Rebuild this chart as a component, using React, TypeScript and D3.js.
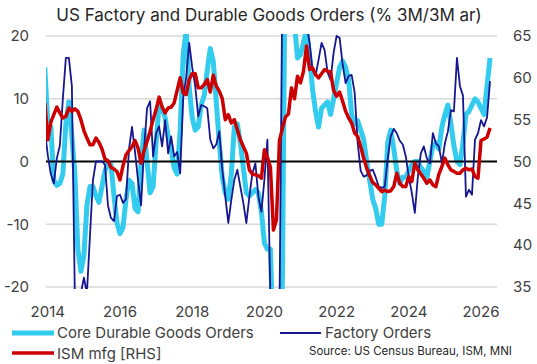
import React from 'react'
import * as d3 from 'd3'

// monthly series, first point Dec 2013
const startYear = 2013 + 11 / 12

const coreDurable = [
  15, 6, 5.5, -3, -3.8, -3.5, -2, 6, 9.5, 4, -2, -14, -17.5, -15, -7, -4, -4, -5.5, -6.5, -4,
  -1.5, -0.3, -0.5, -5.5, -9.8, -11.5, -10.5, -6, -3, -3.5, -7.5, -8, 0, 5, 0, -5, -4, 3, 9, 8.5,
  7, 4, 2, -1, -2, 5, 17, 21, 12, 7, 5, 5.5, 9, 10.5, 14.5, 18, 16, 9.5, 3, -2.5,
  -5, -6, -2, 5.5, 6, 3, -1, -5, -5.5, -5, -4.5, -5, -8, -13, -14, -14, -30, -45, -45, -18,
  40, 45, 35, 22, 16.5, 17, 19, 21, 17, 11.5, 8, 5.5, 8.5, 9, 9.5, 7.5, 10, 12.5, 15, 16,
  15, 13, 7.5, 6, 6.5, 5, 3.5, 0, -3, -6, -7.5, -10, -10, -5.5, 3, 5, 2, -1.5, -3.5, -2.5,
  -2.5, -1.5, -0.5, 0, 0, -1, -1.5, -2.5, 0, 2.5, 3, 2, 5.5, 7.5, 9, 6, 2.5, 0, -0.5, 3,
  7.5, 8, 9, 10, 9.5, 8.5, 7.5, 12, 16.5,
]

const factoryOrders = [
  5, 1, -2, -3.5, 0.5, 2.5, 10, 16.5, 16.5, 12, -22, -30, -21, -18.5, -21, -12, -3, 0, 0, 0,
  -0.5, -7, -9, -9.5, -5.5, -5.3, -6.6, -6, 2, 5.5, 1.5, -3, -7, 2, 8.5, 9.6, 0.8, 4.5, 5.6, 2.4,
  6.6, 1.3, 4, 0.8, 1.5, -1.9, 10, 13.5, 18.9, 15, 12, 7.2, 9, 8.8, 8.5, 3.5, 2.1, 2.7, 4.8, -1.3,
  -5.6, -9.8, -6.1, -2.9, -1.3, -4, -6.6, -9.8, -5.6, -1.9, -0.3, -5.6, -8, -2.9, 3.5, -22, -40, -35, -25, 30,
  40, 35, 30, 28, 25, 24, 26, 22, 19, 14.6, 13.6, 16.2, 18.9, 17.8, 14.2, 13, 17.3, 20, 19.7, 15.5,
  12.5, 13.6, 13.8, 11, 3, -1.5, -2.4, -2.2, -1.5, -1.3, -2.5, -4, -4.2, -4, 0.5, 4, 5.2, 4.5, 3.3, 2.7,
  0.8, -2.5, -5, -8.2, -2.5, 1.3, 2.4, 0.5, -0.3, 4.5, 2.9, 2.4, -0.3, 2.9, 4.8, 8.2, 8, 16.5, 12, 10.5,
  -5.6, -4.5, -5.3, 3.5, 4.5, 6.6, 5.6, 7, 12.8,
]

const ismMfg = [
  57, 52.6, 54.7, 55.6, 56.5, 55.8, 55.2, 55.4, 56.4, 56, 56.3, 56, 55, 53.7, 52.8, 52, 52, 52.8, 52.3, 51.5,
  50.3, 50.1, 49.3, 49.1, 48.8, 47.8, 49.5, 50.8, 51.3, 51.8, 52.5, 51.6, 49.8, 51.3, 52.4, 53.6, 55, 56.2, 57.7, 56.5,
  55.8, 56.4, 56.5, 57, 58.5, 60, 58.2, 58, 59.8, 60.5, 60.5, 58.8, 58.8, 59.2, 59.8, 58.3, 60.3, 59, 58.4, 57.5,
  55, 55.6, 54.6, 55, 53.8, 52.6, 51.8, 51, 49, 48.5, 48.4, 48.3, 48, 51.4, 50.5, 49.3, 41.8, 43, 52.5, 54,
  55.3, 55.7, 58.8, 57.5, 60.2, 59.4, 60.8, 63.8, 61, 61.2, 60.4, 60, 60.5, 61, 60.8, 60.7, 58.5, 57.8, 58.3, 57.2,
  56, 55.2, 54.6, 53.4, 53, 51.8, 50.4, 49.2, 48.3, 47.5, 47.2, 46.8, 46.4, 46.6, 46.4, 46.5, 47, 48.6, 47.4, 47,
  47, 48.2, 47.6, 49.8, 49, 48.5, 48, 47.4, 47.8, 47.2, 47, 48.5, 49.4, 50.4, 49.6, 49, 48.8, 48.6, 48.6, 49,
  49.2, 49, 49.1, 48.2, 48, 52.5, 52.7, 52.9, 54,
]

const leftTicks = [-20, -10, 0, 10, 20]
const rightTicks = [35, 40, 45, 50, 55, 60, 65]
const yearTicks = [2014, 2016, 2018, 2020, 2022, 2024, 2026]

const W = 537
const H = 364
const m = { left: 46, right: 497, top: 36, bottom: 287 }
const font = 'Inter, "Open Sans", sans-serif'
const textColor = '#404040'

export default function App() {
  const x = d3.scaleLinear().domain([2013.95, 2026.443]).range([m.left, m.right])
  const yL = d3.scaleLinear().domain([-20, 20]).range([m.bottom, m.top])
  const yR = d3.scaleLinear().domain([35, 65]).range([m.bottom, m.top])

  const t = (i: number) => startYear + i / 12
  const lineL = d3.line<number>().x((_, i) => x(t(i))).y(d => yL(d))
  const lineR = d3.line<number>().x((_, i) => x(t(i))).y(d => yR(d))

  return (
    <svg width={W} height={H} style={{ position: 'absolute', left: 0, top: 0, background: '#fff' }} fontFamily={font}>
      <defs>
        <clipPath id="plot">
          <rect x={m.left} y={m.top - 2} width={m.right - m.left} height={m.bottom - m.top + 4} />
        </clipPath>
      </defs>

      <text x={269} y={21} textAnchor="middle" fontSize={17} fill="#262626">
        US Factory and Durable Goods Orders (% 3M/3M ar)
      </text>

      {/* gridlines */}
      {leftTicks.filter(v => v !== 0).map(v => (
        <line key={v} x1={m.left} x2={m.right} y1={yL(v)} y2={yL(v)} stroke="#d9d9d9" strokeWidth={1.5} />
      ))}

      {/* axis labels */}
      {leftTicks.map(v => (
        <text key={v} x={29} y={yL(v)} dy="0.35em" textAnchor="end" fontSize={15} fill={textColor}>
          {v}
        </text>
      ))}
      {rightTicks.map(v => (
        <text key={v} x={513} y={yR(v)} dy="0.35em" textAnchor="start" fontSize={15} fill={textColor}>
          {v}
        </text>
      ))}
      {yearTicks.map(v => (
        <text key={v} x={x(v)} y={317} textAnchor="middle" fontSize={15} fill={textColor}>
          {v}
        </text>
      ))}

      <g clipPath="url(#plot)" fill="none" strokeLinejoin="round">
        <path d={lineL(coreDurable) || ''} stroke="#33CCEE" strokeWidth={5} />
        <line x1={m.left} x2={m.right} y1={yL(0)} y2={yL(0)} stroke="#000" strokeWidth={2.2} />
        <path d={lineL(factoryOrders) || ''} stroke="#161690" strokeWidth={1.8} />
        <path d={lineR(ismMfg) || ''} stroke="#CC0000" strokeWidth={3.5} />
      </g>

      {/* legend */}
      <line x1={12} x2={54} y1={333} y2={333} stroke="#33CCEE" strokeWidth={5} />
      <text x={57} y={338} fontSize={15} fill={textColor}>Core Durable Goods Orders</text>
      <line x1={280} x2={321} y1={333} y2={333} stroke="#161690" strokeWidth={2} />
      <text x={325} y={338} fontSize={15} fill={textColor}>Factory Orders</text>
      <line x1={12} x2={54} y1={353} y2={353} stroke="#CC0000" strokeWidth={3.5} />
      <text x={57} y={358.5} fontSize={15} fill={textColor}>ISM mfg [RHS]</text>
      <text x={309} y={355} fontSize={11.5} fill="#262626">Source: US Census Bureau, ISM, MNI</text>
    </svg>
  )
}
